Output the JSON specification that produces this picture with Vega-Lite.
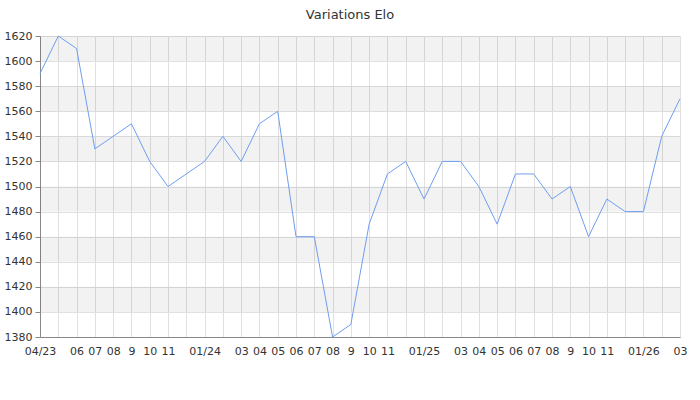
{
  "$schema": "https://vega.github.io/schema/vega-lite/v6.json",
  "autosize": {"type": "none"},
  "width": 640,
  "height": 301,
  "padding": {"left": 40, "top": 36, "right": 20, "bottom": 63},
  "background": "white",
  "title": {"text": "Variations Elo", "font": "DejaVu Sans", "fontSize": 13, "fontWeight": "normal", "color": "#333", "anchor": "middle", "frame": "group", "dx": -10, "offset": 8},
  "config": {
    "view": {"stroke": null},
    "font": "DejaVu Sans",
    "axisY": {
      "title": null,
      "values": [1380,1390,1400,1410,1420,1430,1440,1450,1460,1470,1480,1490,1500,1510,1520,1530,1540,1550,1560,1570,1580,1590,1600,1610,1620],
      "labelExpr": "datum.value % 20 == 0 ? datum.label : ''",
      "format": "d",
      "labelFontSize": 11, "labelColor": "#333", "labelPadding": 3,
      "tickSize": 5, "tickColor": "#888", "domainColor": "#888",
      "grid": true, "gridColor": "#e0e0e0",
      "gridOpacity": {"condition": {"test": "datum.value % 20 != 0", "value": 0}, "value": 1}
    }
  },
  "datasets": {
    "bands": [
      {"lo": 1600, "hi": 1620},
      {"lo": 1560, "hi": 1580},
      {"lo": 1520, "hi": 1540},
      {"lo": 1480, "hi": 1500},
      {"lo": 1440, "hi": 1460},
      {"lo": 1400, "hi": 1420}
    ],
    "elo": [
      {"month": "2023-04", "elo": 1590},
      {"month": "2023-05", "elo": 1620},
      {"month": "2023-06", "elo": 1610},
      {"month": "2023-07", "elo": 1530},
      {"month": "2023-08", "elo": 1540},
      {"month": "2023-09", "elo": 1550},
      {"month": "2023-10", "elo": 1520},
      {"month": "2023-11", "elo": 1500},
      {"month": "2023-12", "elo": 1510},
      {"month": "2024-01", "elo": 1520},
      {"month": "2024-02", "elo": 1540},
      {"month": "2024-03", "elo": 1520},
      {"month": "2024-04", "elo": 1550},
      {"month": "2024-05", "elo": 1560},
      {"month": "2024-06", "elo": 1460},
      {"month": "2024-07", "elo": 1460},
      {"month": "2024-08", "elo": 1380},
      {"month": "2024-09", "elo": 1390},
      {"month": "2024-10", "elo": 1470},
      {"month": "2024-11", "elo": 1510},
      {"month": "2024-12", "elo": 1520},
      {"month": "2025-01", "elo": 1490},
      {"month": "2025-02", "elo": 1520},
      {"month": "2025-03", "elo": 1520},
      {"month": "2025-04", "elo": 1500},
      {"month": "2025-05", "elo": 1470},
      {"month": "2025-06", "elo": 1510},
      {"month": "2025-07", "elo": 1510},
      {"month": "2025-08", "elo": 1490},
      {"month": "2025-09", "elo": 1500},
      {"month": "2025-10", "elo": 1460},
      {"month": "2025-11", "elo": 1490},
      {"month": "2025-12", "elo": 1480},
      {"month": "2026-01", "elo": 1480},
      {"month": "2026-02", "elo": 1540},
      {"month": "2026-03", "elo": 1570}
    ]
  },
  "layer": [
    {
      "data": {"name": "bands"},
      "mark": {"type": "rect", "color": "#000000", "opacity": 0.05},
      "encoding": {
        "y": {"field": "lo", "type": "quantitative", "scale": {"domain": [1380, 1620], "nice": false, "zero": false}},
        "y2": {"field": "hi"}
      }
    },
    {
      "data": {"name": "elo"},
      "mark": {"type": "line", "color": "#6f9ef0", "strokeWidth": 1},
      "encoding": {
        "x": {
          "field": "month", "type": "ordinal", "sort": null,
          "scale": {"type": "point", "padding": 0},
          "axis": {
            "title": null, "labelAngle": 0, "ticks": false, "labelOverlap": false,
            "labelPadding": 8, "labelFontSize": 11, "labelColor": "#333",
            "domainColor": "#888", "gridColor": "#e0e0e0", "grid": true,
            "labelExpr": "datum.value == '2023-04' ? '04/23' : (datum.value == '2023-05' ? '' : (substring(datum.value,5,7) == '01' ? '01/' + substring(datum.value,2,4) : (indexof(['12','02'], substring(datum.value,5,7)) >= 0 ? '' : (substring(datum.value,5,7) == '09' ? '9' : substring(datum.value,5,7)))))"
          }
        },
        "y": {
          "field": "elo", "type": "quantitative",
          "scale": {"domain": [1380, 1620], "nice": false, "zero": false}
        }
      }
    }
  ]
}
